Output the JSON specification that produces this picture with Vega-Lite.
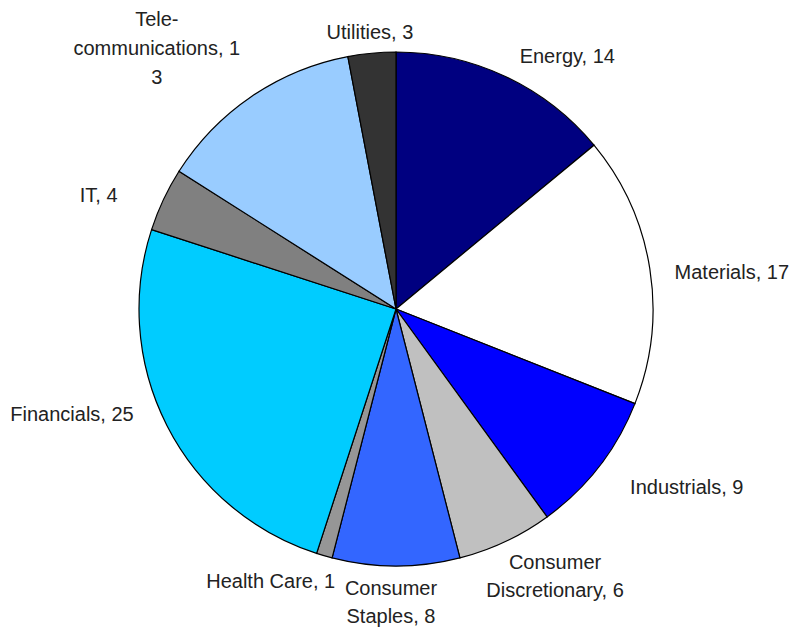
{
  "$schema": "https://vega.github.io/schema/vega-lite/v6.json",
  "width": 792,
  "height": 618,
  "autosize": "none",
  "padding": {"left": 0, "top": 0, "right": 4, "bottom": 9},
  "background": "white",
  "config": {"view": {"stroke": null}},
  "data": {
    "values": [
      {"idx": 1, "cat": "Energy", "value": 14, "label": "Energy, 14"},
      {"idx": 2, "cat": "Materials", "value": 17, "label": "Materials, 17"},
      {"idx": 3, "cat": "Industrials", "value": 9, "label": "Industrials, 9"},
      {"idx": 4, "cat": "Consumer Discretionary", "value": 6, "label": "Consumer\nDiscretionary, 6"},
      {"idx": 5, "cat": "Consumer Staples", "value": 8, "label": "Consumer\nStaples, 8"},
      {"idx": 6, "cat": "Health Care", "value": 1, "label": "Health Care, 1"},
      {"idx": 7, "cat": "Financials", "value": 25, "label": "Financials, 25"},
      {"idx": 8, "cat": "IT", "value": 4, "label": "IT, 4"},
      {"idx": 9, "cat": "Telecommunications", "value": 13, "label": "Tele-\ncommunications, 1\n3"},
      {"idx": 10, "cat": "Utilities", "value": 3, "label": "Utilities, 3"}
    ]
  },
  "encoding": {
    "theta": {"field": "value", "type": "quantitative", "stack": true},
    "order": {"field": "idx", "type": "quantitative"}
  },
  "layer": [
    {
      "mark": {"type": "arc", "outerRadius": 257, "stroke": "#000000", "strokeWidth": 1.2},
      "encoding": {
        "color": {
          "field": "cat",
          "type": "nominal",
          "legend": null,
          "scale": {
            "domain": ["Energy", "Materials", "Industrials", "Consumer Discretionary", "Consumer Staples", "Health Care", "Financials", "IT", "Telecommunications", "Utilities"],
            "range": ["#000080", "#FFFFFF", "#0000FF", "#C0C0C0", "#3366FF", "#969696", "#00CCFF", "#808080", "#99CCFF", "#333333"]
          }
        }
      }
    },
    {
      "mark": {"type": "text", "radius": 281, "align": "left", "baseline": "middle", "dx": 4, "dy": 2, "font": "Liberation Sans", "fontSize": 20, "lineHeight": 29, "lineBreak": "\n", "color": "#222222"},
      "encoding": {"text": {"condition": {"test": "datum.cat === 'Energy'", "field": "label"}, "value": ""}}
    },
    {
      "mark": {"type": "text", "radius": 281, "align": "left", "baseline": "middle", "dx": 1, "dy": 8, "font": "Liberation Sans", "fontSize": 20, "lineHeight": 29, "lineBreak": "\n", "color": "#222222"},
      "encoding": {"text": {"condition": {"test": "datum.cat === 'Materials'", "field": "label"}, "value": ""}}
    },
    {
      "mark": {"type": "text", "radius": 295, "align": "left", "baseline": "middle", "dx": 1, "dy": -2, "font": "Liberation Sans", "fontSize": 20, "lineHeight": 29, "lineBreak": "\n", "color": "#222222"},
      "encoding": {"text": {"condition": {"test": "datum.cat === 'Industrials'", "field": "label"}, "value": ""}}
    },
    {
      "mark": {"type": "text", "radius": 289, "align": "center", "baseline": "top", "dx": 36, "dy": -17, "font": "Liberation Sans", "fontSize": 20, "lineHeight": 28, "lineBreak": "\n", "color": "#222222"},
      "encoding": {"text": {"condition": {"test": "datum.cat === 'Consumer Discretionary'", "field": "label"}, "value": ""}}
    },
    {
      "mark": {"type": "text", "radius": 270, "align": "center", "baseline": "top", "dx": -5, "dy": 0, "font": "Liberation Sans", "fontSize": 20, "lineHeight": 28, "lineBreak": "\n", "color": "#222222"},
      "encoding": {"text": {"condition": {"test": "datum.cat === 'Consumer Staples'", "field": "label"}, "value": ""}}
    },
    {
      "mark": {"type": "text", "radius": 279, "align": "right", "baseline": "middle", "dx": 17, "dy": 5, "font": "Liberation Sans", "fontSize": 20, "lineHeight": 29, "lineBreak": "\n", "color": "#222222"},
      "encoding": {"text": {"condition": {"test": "datum.cat === 'Health Care'", "field": "label"}, "value": ""}}
    },
    {
      "mark": {"type": "text", "radius": 282, "align": "right", "baseline": "middle", "dx": -11, "dy": -22, "font": "Liberation Sans", "fontSize": 20, "lineHeight": 29, "lineBreak": "\n", "color": "#222222"},
      "encoding": {"text": {"condition": {"test": "datum.cat === 'Financials'", "field": "label"}, "value": ""}}
    },
    {
      "mark": {"type": "text", "radius": 300, "align": "right", "baseline": "middle", "dx": -7, "dy": 15, "font": "Liberation Sans", "fontSize": 20, "lineHeight": 29, "lineBreak": "\n", "color": "#222222"},
      "encoding": {"text": {"condition": {"test": "datum.cat === 'IT'", "field": "label"}, "value": ""}}
    },
    {
      "mark": {"type": "text", "radius": 349, "align": "center", "baseline": "middle", "dx": -43, "dy": 0, "font": "Liberation Sans", "fontSize": 20, "lineHeight": 29, "lineBreak": "\n", "color": "#222222"},
      "encoding": {"text": {"condition": {"test": "datum.cat === 'Telecommunications'", "field": "label"}, "value": ""}}
    },
    {
      "mark": {"type": "text", "radius": 277, "align": "center", "baseline": "middle", "dx": 0, "dy": 0, "font": "Liberation Sans", "fontSize": 20, "lineHeight": 29, "lineBreak": "\n", "color": "#222222"},
      "encoding": {"text": {"condition": {"test": "datum.cat === 'Utilities'", "field": "label"}, "value": ""}}
    }
  ]
}
